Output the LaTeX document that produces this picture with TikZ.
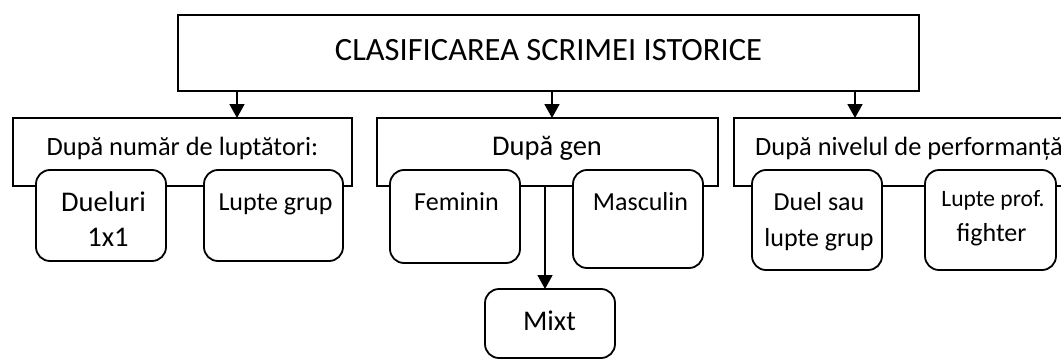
\documentclass[tikz,border=0pt]{standalone}
\usepackage{fontspec}
\setmainfont{Carlito}
\usetikzlibrary{arrows.meta}
\begin{document}
\begin{tikzpicture}[x=1pt,y=-1pt,
  box/.style={draw,line width=1.8pt,fill=white,inner sep=0pt,outer sep=0pt},
  rbox/.style={box,rounded corners=14pt},
  lbl/.style={anchor=base,inner sep=0pt,font=\fontsize{26}{30}\selectfont},
  biglbl/.style={lbl,font=\fontsize{28.5}{32}\selectfont},
  arr/.style={line width=1.8pt,-{Triangle[width=15pt,length=14pt]}}]
\useasboundingbox (0,0) rectangle (1061,359);
\clip (0,0) rectangle (1061,359);
% title
\node[box,minimum width=741pt,minimum height=76pt] (title) at (548.5,53) {};
\node[lbl,font=\fontsize{32.5}{36}\selectfont] (titletxt) at (548.5,60) {CLASIFICAREA SCRIMEI ISTORICE};
% headers
\node[box,minimum width=339pt,minimum height=68pt] (A) at (182.5,152) {};
\node[box,minimum width=341pt,minimum height=68pt] (B) at (547.5,152) {};
\node[box,minimum width=356pt,minimum height=68pt] (C) at (912,152) {};
\node[lbl,font=\fontsize{26.4}{30}\selectfont] (Atxt) at (182.5,155) {După număr de luptători:};
\node[biglbl] (Btxt) at (547,155) {După gen};
\node[lbl,font=\fontsize{26.4}{30}\selectfont,anchor=base west] (Ctxt) at (755,155) {După nivelul de performanță};
% arrows from title
\coordinate (a1) at (237,0);
\coordinate (a2) at (552,0);
\coordinate (a3) at (855,0);
\coordinate (am) at (545,0);
\draw[arr] (title.south -| a1) -- (A.north -| a1);
\draw[arr] (title.south -| a2) -- (B.north -| a2);
\draw[arr] (title.south -| a3) -- (C.north -| a3);
% children
\node[rbox,minimum width=130pt,minimum height=91pt] (dueluri) at (101,215.5) {};
\node[biglbl] (dueluri1) at (103.5,211.5) {Dueluri};
\node[biglbl] (dueluri2) at (108,246.5) {1x1};
\node[rbox,minimum width=139pt,minimum height=91pt] (luptegrup) at (273.5,215.5) {};
\node[lbl] (luptegruptxt) at (275.5,210.5) {Lupte grup};
\node[rbox,minimum width=130pt,minimum height=93pt] (feminin) at (455,216.5) {};
\node[lbl] (femtxt) at (456.5,210) {Feminin};
\node[rbox,minimum width=130pt,minimum height=98pt] (masculin) at (638,219) {};
\node[lbl] (masctxt) at (640.5,210) {Masculin};
\node[rbox,minimum width=130pt,minimum height=100pt] (duel) at (817,220) {};
\node[lbl] (duel1) at (819,210) {Duel sau};
\node[lbl] (duel2) at (819,246) {lupte grup};
\node[rbox,minimum width=131pt,minimum height=100pt] (prof) at (990.5,220) {};
\node[lbl,font=\fontsize{23.5}{27}\selectfont] (prof1) at (993,206.5) {Lupte prof.};
\node[lbl] (prof2) at (991.5,241.5) {fighter};
% mixt
\node[rbox,minimum width=130pt,minimum height=69pt] (mixt) at (550,323.5) {};
\node[biglbl] (mixttxt) at (549.5,330.5) {Mixt};
\draw[arr] (B.south -| am) -- (mixt.north -| am);
\end{tikzpicture}
\end{document}
